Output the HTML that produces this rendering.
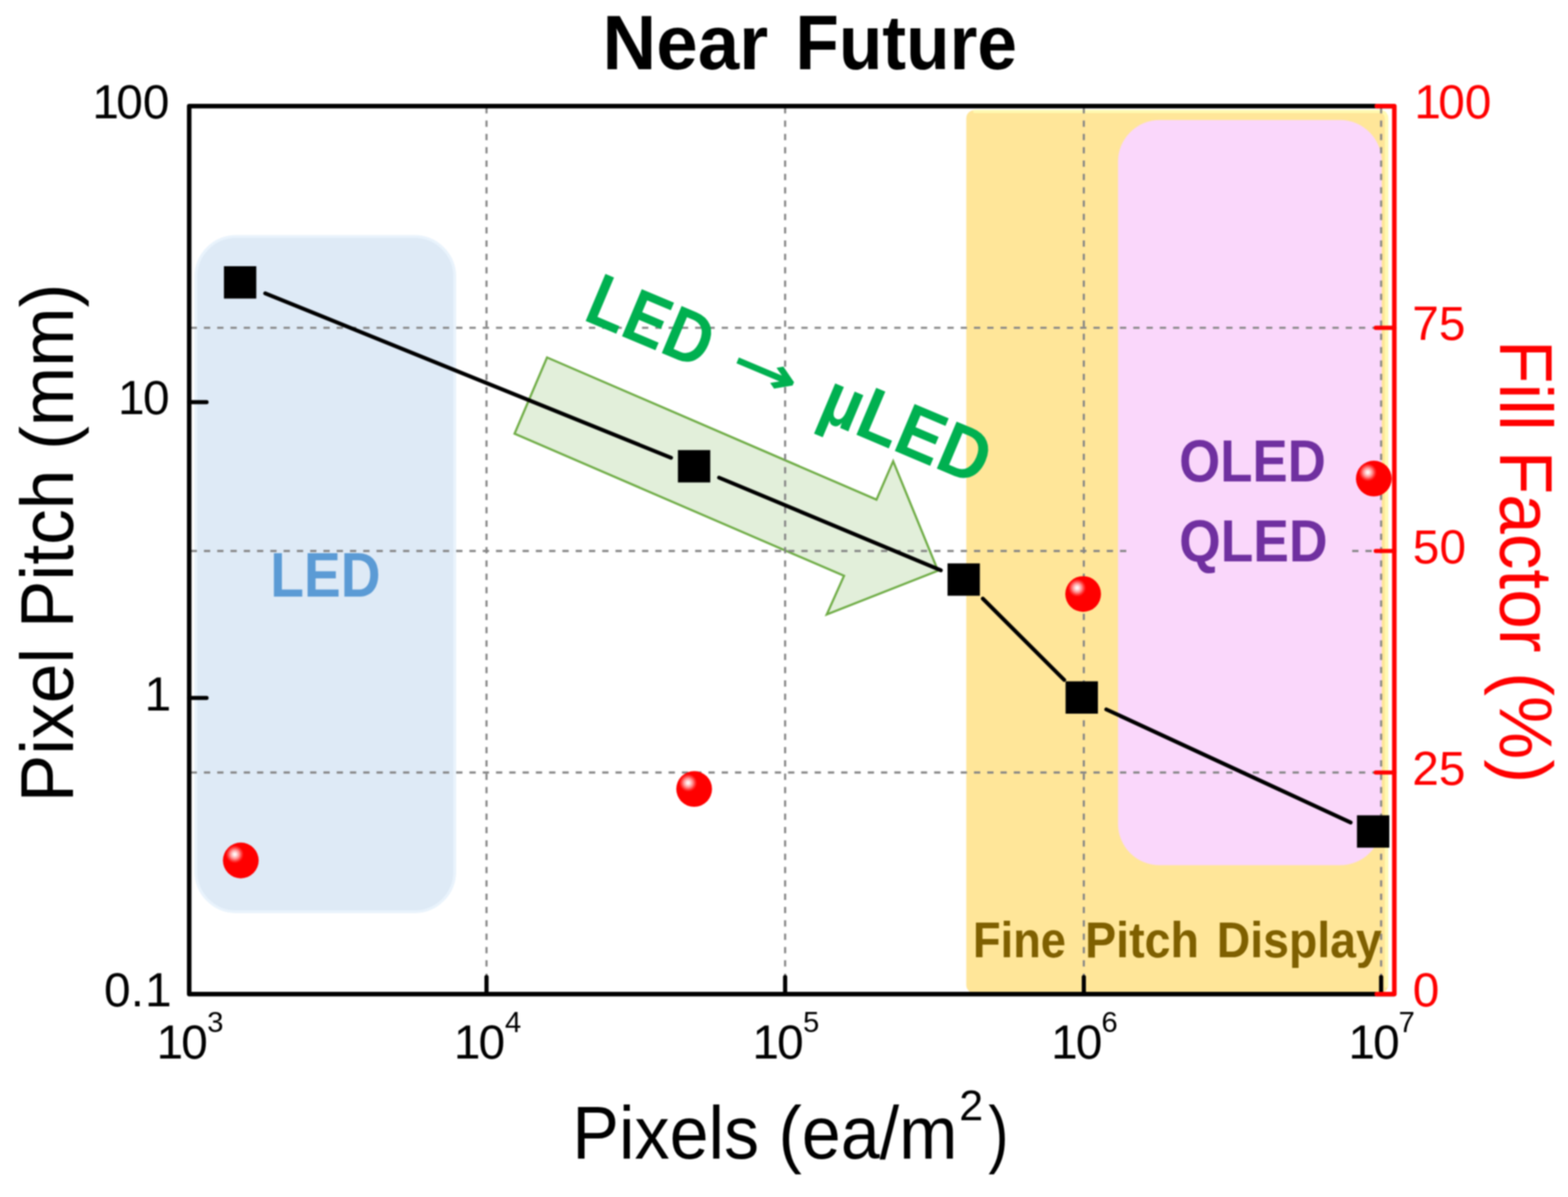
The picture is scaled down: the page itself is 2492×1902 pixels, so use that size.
<!DOCTYPE html>
<html lang="en"><head><meta charset="utf-8"><title>Near Future</title>
<style>
html,body{margin:0;padding:0;background:#fff;}
body{width:2492px;height:1902px;overflow:hidden;}
svg{display:block;filter:blur(0.8px);}
text{font-family:"Liberation Sans",sans-serif;}
.b{font-weight:bold;}
.dj{font-family:"DejaVu Sans",sans-serif;font-weight:bold;}
</style></head><body>
<svg width="2492" height="1902" viewBox="0 0 2492 1902">
<defs>
<radialGradient id="ball" cx="0.332" cy="0.328" r="0.25" fx="0.332" fy="0.328"><stop offset="0" stop-color="#fff"/><stop offset="0.18" stop-color="#ffe6e6"/><stop offset="0.5" stop-color="#ff9292"/><stop offset="0.8" stop-color="#ff3030"/><stop offset="1" stop-color="#f00"/></radialGradient>
</defs>
<rect width="2492" height="1902" fill="#fff"/>
<rect x="311.25" y="375.85" width="411.5" height="1072.9" rx="64" ry="64" fill="#deeaf6" stroke="#e9f3fc" stroke-width="4.5"/>
<rect x="1535.7" y="175" width="670.6" height="1403" rx="13" ry="13" fill="#ffe699"/>
<path d="M1549 177.1 H2192 Q2203.4 177.1 2203.4 189 V1567" fill="none" stroke="#fffab2" stroke-width="5" stroke-linecap="round"/>
<rect x="1776.8" y="190.8" width="419.2" height="1184" rx="66" ry="66" fill="#fad7fb"/>
<polygon points="869.4,568.0 1393.0,793.9 1419.5,732.9 1490.7,906.8 1314.0,976.3 1341.4,915.0 817.8,689.1" fill="#e2efda" stroke="#70ad47" stroke-width="3.5" stroke-linejoin="miter"/>
<line x1="773.2" y1="170.3" x2="773.2" y2="1579.6" stroke="#858585" stroke-width="3.3" stroke-dasharray="10 11.18" fill="none"/>
<line x1="1247.8" y1="170.3" x2="1247.8" y2="1579.6" stroke="#858585" stroke-width="3.3" stroke-dasharray="10 11.18" fill="none"/>
<line x1="1722.5" y1="170.3" x2="1722.5" y2="1579.6" stroke="#858585" stroke-width="3.3" stroke-dasharray="10 11.18" fill="none"/>
<line x1="2195" y1="170.3" x2="2195" y2="1579.6" stroke="#858585" stroke-width="3.3" stroke-dasharray="10 11.18" fill="none"/>
<line x1="303" y1="520.9" x2="2188" y2="520.9" stroke="#858585" stroke-width="3.3" stroke-dasharray="10 11.1" fill="none"/>
<line x1="303" y1="1227.5" x2="2188" y2="1227.5" stroke="#858585" stroke-width="3.3" stroke-dasharray="10 11.1" fill="none"/>
<line x1="303" y1="875.5" x2="1798" y2="875.5" stroke="#858585" stroke-width="3.3" stroke-dasharray="10 11.1" fill="none"/>
<line x1="2149" y1="875.5" x2="2188" y2="875.5" stroke="#858585" stroke-width="3.3" stroke-dasharray="10 11.1" fill="none"/>
<text class="b" x="429.48" y="948.3" font-size="101.02" fill="#5b9bd5" textLength="175.45" lengthAdjust="spacingAndGlyphs">LED</text>
<text class="b" x="1873.94" y="765" font-size="95.2" fill="#7030a0" textLength="233.16" lengthAdjust="spacingAndGlyphs">OLED</text>
<text class="b" x="1873.9" y="891.5" font-size="95.2" fill="#7030a0" textLength="235.94" lengthAdjust="spacingAndGlyphs">QLED</text>
<text class="b" y="1520.8" fill="#7f6000"><tspan x="1546.25" font-size="79.22" textLength="147.85" lengthAdjust="spacingAndGlyphs">Fine</tspan> <tspan x="1724.4" font-size="79.22" textLength="181.14" lengthAdjust="spacingAndGlyphs">Pitch</tspan> <tspan x="1933.72" font-size="79.22" textLength="262.31" lengthAdjust="spacingAndGlyphs">Display</tspan></text>
<text class="b" fill="#00b050" transform="translate(930.9,510) rotate(22.8)"><tspan x="-6.93" y="0" font-size="117.73" textLength="205.3" lengthAdjust="spacingAndGlyphs">LED</tspan> <tspan class="dj" x="239.46" y="-9.5" font-size="84" textLength="109.81" lengthAdjust="spacingAndGlyphs">→</tspan> <tspan x="396.95" y="0" font-size="117.73" textLength="279.52" lengthAdjust="spacingAndGlyphs">µLED</tspan></text>
<line x1="421.5" y1="466.1" x2="1066.5" y2="727.4" stroke="#000" stroke-width="6.2" stroke-linecap="round"/>
<line x1="1142.8" y1="759.0" x2="1495.2" y2="906.2" stroke="#000" stroke-width="6.2" stroke-linecap="round"/>
<line x1="1562.0" y1="951.3" x2="1691.3" y2="1080.4" stroke="#000" stroke-width="6.2" stroke-linecap="round"/>
<line x1="1758.2" y1="1127.2" x2="2146.5" y2="1306.9" stroke="#000" stroke-width="6.2" stroke-linecap="round"/>
<circle cx="382.7" cy="1367.25" r="28.4" fill="url(#ball)"/>
<circle cx="1103.2" cy="1253.7" r="28.4" fill="url(#ball)"/>
<circle cx="1721.4" cy="943.8" r="28.4" fill="url(#ball)"/>
<circle cx="2183.4" cy="760.4" r="28.4" fill="url(#ball)"/>
<path d="M2216 168.6 H300.7 V1579.6 H2216" fill="none" stroke="#000" stroke-width="7.2" stroke-linejoin="round"/>
<line x1="300.7" y1="639.05" x2="328.2" y2="639.05" stroke="#000" stroke-width="6.6" stroke-linecap="round"/>
<line x1="300.7" y1="1109.05" x2="328.2" y2="1109.05" stroke="#000" stroke-width="6.6" stroke-linecap="round"/>
<line x1="773.2" y1="1579.6" x2="773.2" y2="1552.6" stroke="#000" stroke-width="6.6" stroke-linecap="round"/>
<line x1="1247.8" y1="1579.6" x2="1247.8" y2="1552.6" stroke="#000" stroke-width="6.6" stroke-linecap="round"/>
<line x1="1722.5" y1="1579.6" x2="1722.5" y2="1552.6" stroke="#000" stroke-width="6.6" stroke-linecap="round"/>
<line x1="2195" y1="1579.6" x2="2195" y2="1552.6" stroke="#000" stroke-width="6.6" stroke-linecap="round"/>
<path d="M2188 168.6 H2216 V1579.6 H2188" fill="none" stroke="#f00" stroke-width="7.2" stroke-linejoin="round" stroke-linecap="round"/>
<line x1="2216" y1="1227.5" x2="2186.5" y2="1227.5" stroke="#f00" stroke-width="6.6" stroke-linecap="round"/>
<line x1="2216" y1="875.5" x2="2186.5" y2="875.5" stroke="#f00" stroke-width="6.6" stroke-linecap="round"/>
<line x1="2216" y1="520.9" x2="2186.5" y2="520.9" stroke="#f00" stroke-width="6.6" stroke-linecap="round"/>
<rect x="355.9" y="423.0" width="51.4" height="51.4" fill="#000"/>
<rect x="1077.4" y="715.2" width="51.4" height="51.4" fill="#000"/>
<rect x="1505.9" y="895.2" width="51.4" height="51.4" fill="#000"/>
<rect x="1693.5" y="1082.6" width="51.4" height="51.4" fill="#000"/>
<rect x="2156.6" y="1295.5" width="51.4" height="51.4" fill="#000"/>
<text y="187.6" font-size="76" fill="#000"><tspan x="146.86">1</tspan><tspan x="184.79">00</tspan></text>
<text y="658.25" font-size="76" fill="#000"><tspan x="187.56">1</tspan><tspan x="227.27">0</tspan></text>
<text y="1128.65" font-size="76" fill="#000"><tspan x="229.86">1</tspan></text>
<text y="1598.9" font-size="76" fill="#000"><tspan x="165.36">0.</tspan><tspan x="230.46">1</tspan></text>
<text y="187.6" font-size="76" fill="#f00"><tspan x="2247.86">1</tspan><tspan x="2285.69">00</tspan></text>
<text y="540.1" font-size="76" fill="#f00"><tspan x="2244.41">75</tspan></text>
<text y="894.7" font-size="76" fill="#f00"><tspan x="2245.36">50</tspan></text>
<text y="1246.7" font-size="76" fill="#f00"><tspan x="2244.6">25</tspan></text>
<text y="1598.8" font-size="76" fill="#f00"><tspan x="2245.36">0</tspan></text>
<text y="1682.3" font-size="76" fill="#000"><tspan x="248.76">1</tspan><tspan x="287.97">0</tspan><tspan x="329.26" y="1640.2" font-size="46.5">3</tspan></text>
<text y="1682.3" font-size="76" fill="#000"><tspan x="721.26">1</tspan><tspan x="760.47">0</tspan><tspan x="802.45" y="1640.2" font-size="46.5">4</tspan></text>
<text y="1682.3" font-size="76" fill="#000"><tspan x="1195.86">1</tspan><tspan x="1235.07">0</tspan><tspan x="1276.24" y="1640.2" font-size="46.5">5</tspan></text>
<text y="1682.3" font-size="76" fill="#000"><tspan x="1670.56">1</tspan><tspan x="1709.77">0</tspan><tspan x="1750.47" y="1640.2" font-size="46.5">6</tspan></text>
<text y="1682.3" font-size="76" fill="#000"><tspan x="2143.06">1</tspan><tspan x="2182.27">0</tspan><tspan x="2222.86" y="1640.2" font-size="46.5">7</tspan></text>
<text fill="#000"><tspan x="909.62" y="1840.8" font-size="119.19" textLength="611.99" lengthAdjust="spacingAndGlyphs">Pixels (ea/m</tspan><tspan x="1524.58" y="1780.2" font-size="67.62" textLength="38.02" lengthAdjust="spacingAndGlyphs">2</tspan><tspan x="1570.67" y="1840.8" font-size="119.19" textLength="32.22" lengthAdjust="spacingAndGlyphs">)</tspan></text>
<text x="-9.34" y="0" font-size="119.19" fill="#000" textLength="824.03" lengthAdjust="spacingAndGlyphs" transform="translate(116.1,1265.5) rotate(-90)">Pixel Pitch (mm)</text>
<text x="-9.34" y="0" font-size="119.19" fill="#f00" textLength="704.2" lengthAdjust="spacingAndGlyphs" transform="translate(2383.8,549.5) rotate(90)">Fill Factor (%)</text>
<text class="b" y="110" fill="#000"><tspan x="957.61" font-size="122.53" textLength="263.21" lengthAdjust="spacingAndGlyphs">Near</tspan> <tspan x="1263.95" font-size="122.53" textLength="352.44" lengthAdjust="spacingAndGlyphs">Future</tspan></text>
</svg>
</body></html>
